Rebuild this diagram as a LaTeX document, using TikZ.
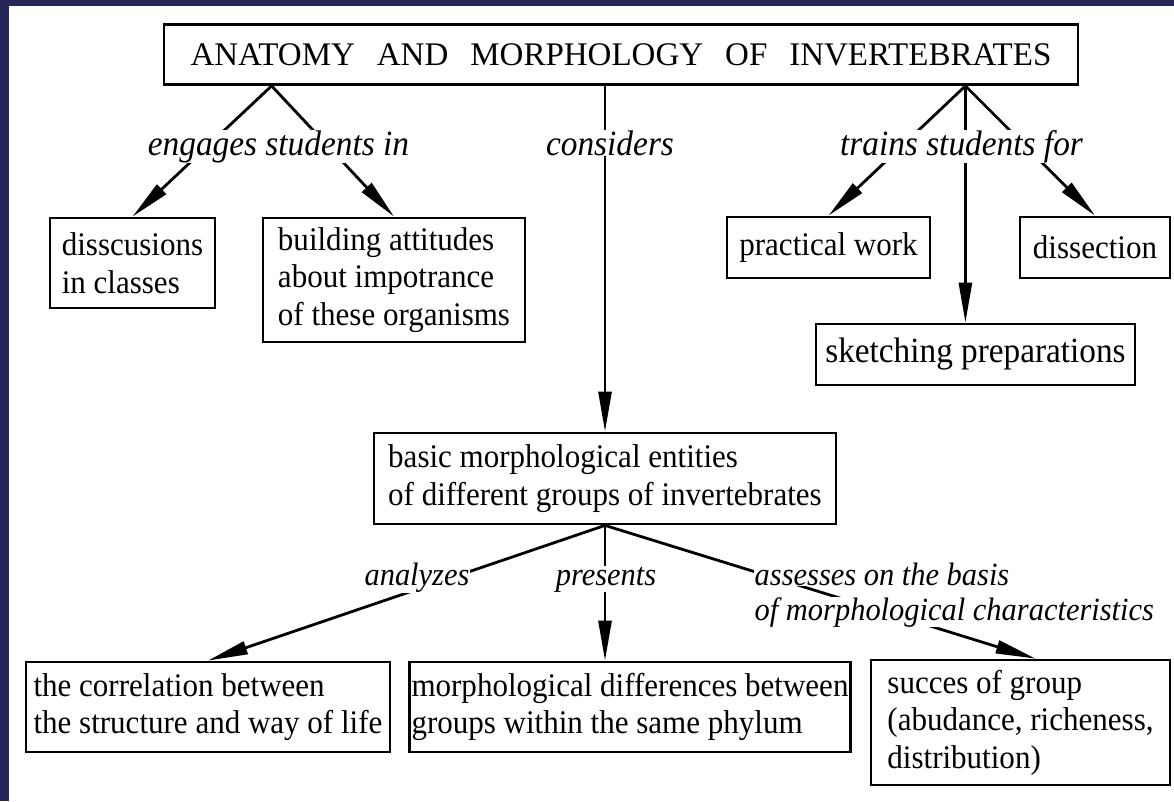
\documentclass[tikz,border=0pt]{standalone}
\usepackage{fontspec}
\setmainfont{Liberation Serif}[FakeStretch=0.94]
\newfontfamily\titlefont{Liberation Serif}
\usetikzlibrary{arrows.meta}
\definecolor{framenavy}{RGB}{38,39,88}
\newcommand{\tsp}{\hspace{22pt}}

\begin{document}
\begin{tikzpicture}[x=1pt,y=-1pt,line join=miter,
    box/.style={draw,line width=2.8pt,inner sep=2pt,align=left,font=\fontsize{33}{37.5}\selectfont},
    lab/.style={fill=white,inner sep=0.5pt,anchor=base,font=\fontsize{35.5}{37}\selectfont\itshape},
    lowlab/.style={lab,font=\fontsize{32.4}{35}\selectfont\itshape},
    arr/.style={line width=2.8pt,-{Triangle[length=40pt,width=13pt]}}]
    \useasboundingbox (0,0) rectangle (1174,801);
    \fill[framenavy] (0,0) rectangle (1174,6);
    \fill[framenavy] (0,0) rectangle (9,801);

    \node[box,align=center,minimum width=914pt,minimum height=60pt,font=\titlefont\fontsize{33}{36}\selectfont] (title) at (621,54.5)
        {ANATOMY\tsp AND\tsp MORPHOLOGY\tsp OF\tsp INVERTEBRATES};

    \node[box,minimum width=165pt,minimum height=90pt] (disc) at (132.5,263) {disscusions\\in classes};
    \node[box,minimum width=262pt,minimum height=124pt] (build) at (394,280) {building attitudes\\about impotrance\\of these organisms};
    \node[box,minimum width=203pt,minimum height=61pt] (pract) at (828.5,247.5) {practical work};
    \node[box,minimum width=150pt,minimum height=61pt] (dissec) at (1095,247.5) {dissection};
    \node[box,minimum width=319pt,minimum height=61pt,font=\fontsize{35.4}{38}\selectfont] (sketch) at (975.5,354.5) {sketching preparations};

    \node[box,minimum width=462pt,minimum height=91pt] (basic) at (605,478.5) {basic morphological entities\\of different groups of invertebrates};

    \node[box,minimum width=364pt,minimum height=90pt] (corr) at (208,707) {the correlation between\\the structure and way of life};
    \node[box,minimum width=440pt,minimum height=90pt] (morph) at (630,707) {morphological differences between\\groups within the same phylum};
    \node[box,minimum width=299pt,minimum height=125pt] (succ) at (1020.5,722.5) {succes of group\\(abudance, richeness,\\distribution)};

    % connectors
    \coordinate (tl) at ([xshift=109pt]title.south west);
    \coordinate (tr) at ([xshift=-114pt]title.south east);
    \draw[arr] (tl) -- (disc.north);
    \draw[arr] (tl) -- (build.north);
    \draw[arr] (basic.north |- title.south) -- (basic.north);
    \draw[arr] (tr) -- (pract.north);
    \draw[arr] (tr) -- (tr |- sketch.north);
    \draw[arr] (tr) -- (dissec.north);
    \draw[arr] (basic.south) -- (corr.north);
    \draw[arr] (basic.south) -- (basic.south |- morph.north);
    \draw[arr] (basic.south) -- ([xshift=15pt]succ.north);

    % labels
    \node[lab] (engage) at (278.5,155) {engages students in};
    \node[lab] (consid) at (610,155) {considers};
    \node[lab] (trains) at (961.5,155) {trains students for};
    \node[lowlab] (analyz) at (417,585) {analyzes};
    \node[lowlab] (presen) at (606,585) {presents};
    \node[lowlab,anchor=base west] (assessA) at (754,585) {assesses on the basis};
    \node[lowlab,anchor=base west] (assessB) at (754,620) {of morphological characteristics};
\end{tikzpicture}
\end{document}
